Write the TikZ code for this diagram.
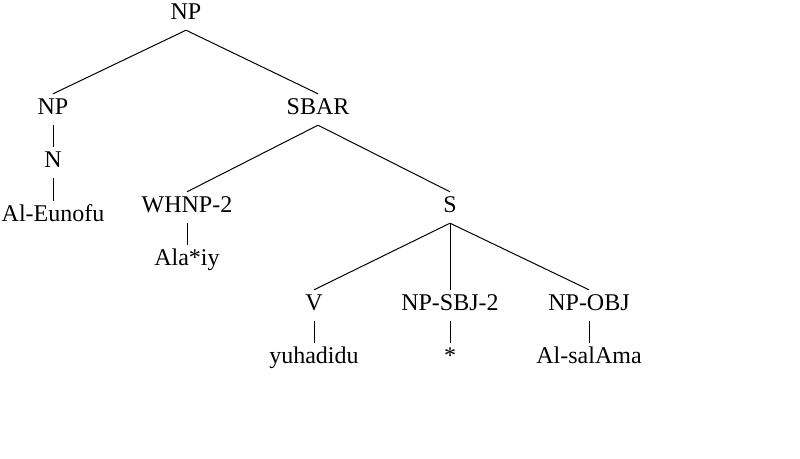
\documentclass[tikz,border=0pt]{standalone}
\usepackage{fontspec}
\setmainfont{Liberation Serif}
\begin{document}
\begin{tikzpicture}[x=1pt,y=-1pt,
  cat/.style={anchor=base,inner sep=0pt,text height=20pt,text depth=11pt,font=\fontsize{24}{28}\selectfont},
  edge/.style={line width=1pt,black}]
\useasboundingbox (0,0) rectangle (800,458);
\node[cat] (np0) at (186,19) {NP};
\node[cat] (np1) at (53,114) {NP};
\node[cat] (n) at (53,167) {N};
\node[cat] (w1) at (53,221) {Al-Eunofu};
\node[cat] (sbar) at (318,114) {SBAR};
\node[cat] (whnp) at (187,212) {WHNP-2};
\node[cat] (w2) at (187,265) {Ala*iy};
\node[cat] (s) at (450,212) {S};
\node[cat] (v) at (314,310) {V};
\node[cat] (sbj) at (450,310) {NP-SBJ-2};
\node[cat] (obj) at (589,310) {NP-OBJ};
\node[cat] (w3) at (314,363) {yuhadidu};
\node[cat] (w4) at (450,363) {*};
\node[cat] (w5) at (589,363) {Al-salAma};
\draw[edge] (np0.south) -- (np1.north);
\draw[edge] (np0.south) -- (sbar.north);
\draw[edge] (np1.south) -- (n.north);
\draw[edge] (n.south) -- (w1.north);
\draw[edge] (sbar.south) -- (whnp.north);
\draw[edge] (sbar.south) -- (s.north);
\draw[edge] (whnp.south) -- (w2.north);
\draw[edge] (s.south) -- (v.north);
\draw[edge] (s.south) -- (sbj.north);
\draw[edge] (s.south) -- (obj.north);
\draw[edge] (v.south) -- (w3.north);
\draw[edge] (sbj.south) -- (w4.north);
\draw[edge] (obj.south) -- (w5.north);
\end{tikzpicture}
\end{document}
